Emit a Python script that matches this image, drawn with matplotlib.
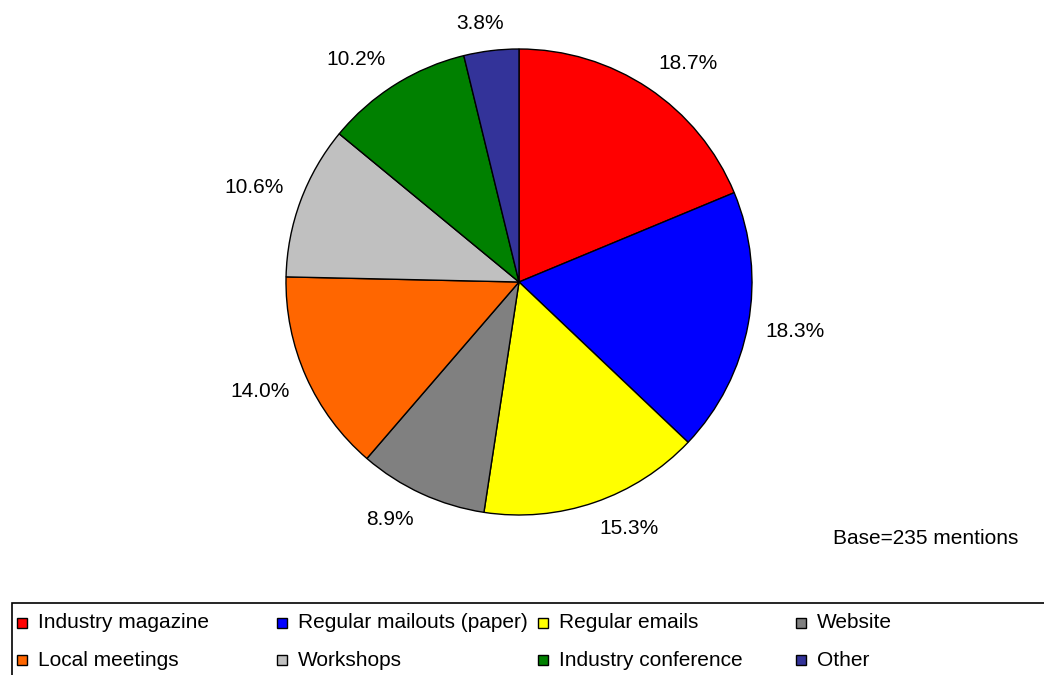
import matplotlib
matplotlib.use("Agg")
import matplotlib.pyplot as plt
from matplotlib.patches import Rectangle
import numpy as np

plt.rcParams['font.family'] = ['Liberation Sans', 'DejaVu Sans']

# share of mentions per channel (%)
channels = ["Industry magazine", "Regular mailouts (paper)", "Regular emails", "Website",
            "Local meetings", "Workshops", "Industry conference", "Other"]
shares = [18.7, 18.3, 15.3, 8.9, 14.0, 10.6, 10.2, 3.8]
colors = ["#FF0000", "#0000FF", "#FFFF00", "#808080",
          "#FF6600", "#C0C0C0", "#008000", "#333399"]
base_note = "Base=235 mentions"

W, H = 1044, 675
fig = plt.figure(figsize=(W / 100, H / 100), dpi=100)
ax = fig.add_axes([0, 0, 1, 1])

cx, cy, r = 519, H - 282, 233
wedges, _ = ax.pie(shares, colors=colors, startangle=90, counterclock=False,
                   center=(cx, cy), radius=r,
                   wedgeprops=dict(edgecolor='black', linewidth=1.0))
ax.set_xlim(0, W)
ax.set_ylim(0, H)
ax.set_aspect('equal')
ax.axis('off')

fs = 15
renderer = fig.canvas.get_renderer()
# labels hang off an anchor just outside the rim, pushed away by their own size
d = r + 18
for w, v in zip(wedges, shares):
    ang = np.deg2rad((w.theta1 + w.theta2) / 2)
    t = ax.text(0, 0, f"{v:.1f}%", fontsize=fs, ha='center', va='center')
    bb = t.get_window_extent(renderer)
    ux, uy = np.cos(ang), np.sin(ang)
    ox = bb.width / 2 * np.clip(3 * ux, -1, 1)
    oy = bb.height / 2 * np.clip(2 * uy, -1, 1)
    t.set_position((cx + d * ux + ox, cy + d * uy + oy))

ax.text(926, H - 539, base_note, fontsize=fs, ha='center', va='center')

# legend box along the bottom
ax.add_patch(Rectangle((12, -20), 1100, H - 603 + 20, facecolor='white',
                       edgecolor='black', linewidth=1.2, clip_on=False))
col_x = [22, 281.5, 543, 801]
row_y = [H - 623, H - 660]
for i, (name, c) in enumerate(zip(channels, colors)):
    x = col_x[i % 4]
    y = row_y[i // 4]
    ax.add_patch(Rectangle((x - 5, y - 5), 10, 10, facecolor=c,
                           edgecolor='black', linewidth=1.0))
    ax.text(x + 16, y, name, fontsize=fs, ha='left', va='center')

fig.savefig("out.png", dpi=100)
